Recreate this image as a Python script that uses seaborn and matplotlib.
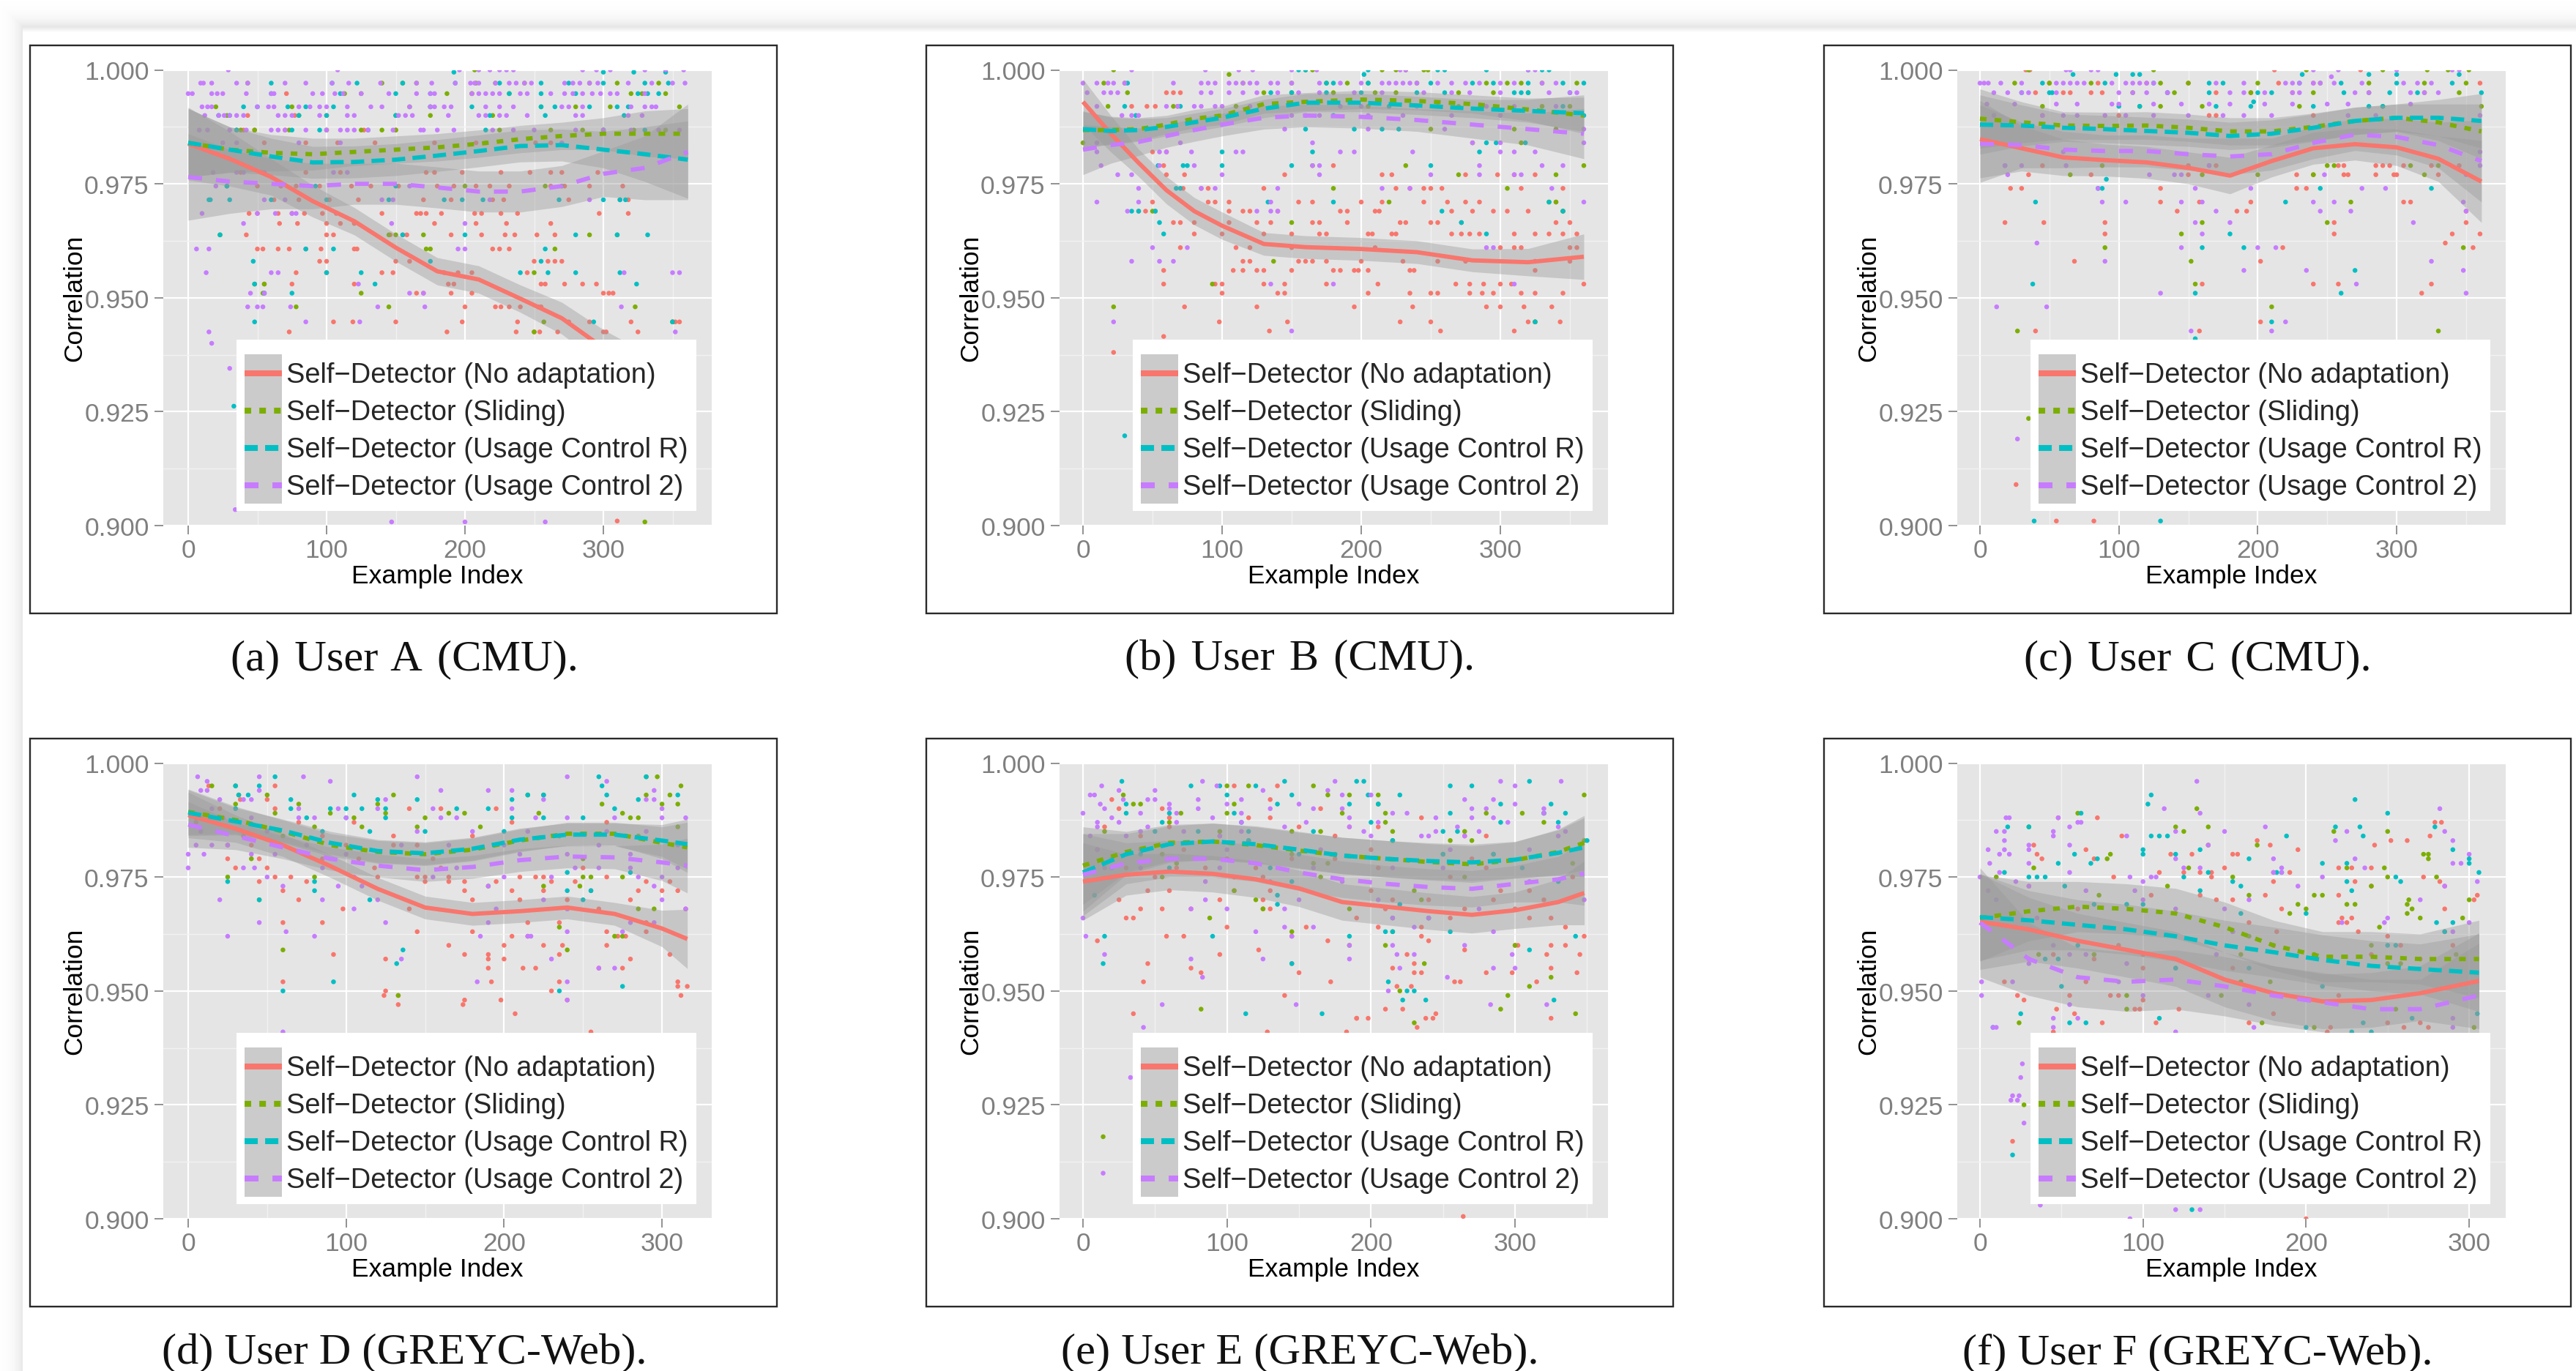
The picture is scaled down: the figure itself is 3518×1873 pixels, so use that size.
import matplotlib
matplotlib.use("Agg")
import matplotlib.pyplot as plt
from matplotlib.legend_handler import HandlerLine2D
from matplotlib.lines import Line2D
from matplotlib.patches import Rectangle
from matplotlib.transforms import Affine2D
import numpy as np
import pandas as pd
import seaborn as sns

SERIES = ["Self\u2212Detector (No adaptation)", "Self\u2212Detector (Sliding)",
          "Self\u2212Detector (Usage Control R)", "Self\u2212Detector (Usage Control 2)"]
COLORS = ["#F8766D", "#7CAE00", "#00BFC4", "#C77CFF"]
CAPTIONS = ["(a)\u200a User\u200a A\u200a (CMU).", "(b)\u200a User\u200a B\u200a (CMU).", "(c)\u200a User\u200a C\u200a (CMU).",
            "(d) User D (GREYC-Web).", "(e) User E (GREYC-Web).", "(f) User F (GREYC-Web)."]
X_TICKS = [0, 100, 200, 300]
Y_TICKS = [0.900, 0.925, 0.950, 0.975, 1.000]

# --- smoothers: knots, means, ribbon half widths ---
A_X = [0, 30, 60, 90, 120, 150, 180, 210, 240, 270, 300, 330, 361]
A_LINES = [[.9838, .9805, .9765, .9712, .9668, .9610, .9558, .9540, .9498, .9455, .9390, .9320, .9250],
           [.9840, .9825, .9818, .9815, .9820, .9825, .9830, .9838, .9848, .9855, .9860, .9860, .9860],
           [.9840, .9825, .9810, .9797, .9798, .9803, .9812, .9822, .9833, .9835, .9825, .9815, .9803],
           [.9765, .9755, .9750, .9745, .9750, .9750, .9742, .9733, .9733, .9745, .9772, .9785, .9820]]
A_CI = [[.008, .006, .004, .0035, .003, .003, .003, .003, .003, .0035, .004, .006, .009],
        [.0075, .005, .004, .0035, .003, .003, .003, .003, .003, .003, .0035, .005, .0055],
        [.0075, .005, .004, .0035, .0035, .0035, .0035, .0035, .0035, .0035, .004, .006, .0085],
        [.0095, .007, .0055, .005, .0045, .0045, .0045, .0045, .0045, .0045, .005, .007, .0105]]

B_X = [0, 20, 40, 60, 80, 100, 130, 160, 200, 240, 280, 320, 360]
B_LINES = [[.9930, .9860, .9796, .9736, .9690, .9658, .9618, .9611, .9607, .9600, .9582, .9578, .9590],
           [.9868, .9868, .9870, .9880, .9893, .9900, .9925, .9930, .9935, .9932, .9925, .9913, .9900],
           [.9870, .9866, .9868, .9875, .9885, .9895, .9915, .9928, .9928, .9922, .9915, .9910, .9905],
           [.9825, .9835, .9842, .9855, .9868, .9880, .9895, .9900, .9897, .9890, .9880, .9870, .9860]]
B_CI = [[.005, .004, .003, .003, .003, .003, .0025, .0025, .0025, .0025, .0025, .003, .005],
        [.004, .003, .0025, .002, .002, .002, .002, .002, .002, .002, .002, .0025, .004],
        [.004, .003, .0025, .002, .002, .002, .002, .002, .002, .002, .002, .0025, .004],
        [.0055, .004, .003, .0025, .0025, .0025, .0025, .0025, .0025, .0025, .003, .0035, .0055]]

C_X = [0, 30, 60, 90, 120, 150, 180, 210, 240, 270, 300, 330, 361]
C_LINES = [[.9848, .9828, .9808, .9802, .9797, .9785, .9768, .9800, .9828, .9837, .9830, .9805, .9755],
           [.9893, .9885, .9878, .9877, .9878, .9873, .9865, .9865, .9875, .9888, .9895, .9885, .9865],
           [.9880, .9878, .9873, .9870, .9866, .9862, .9855, .9860, .9873, .9888, .9895, .9895, .9888],
           [.9838, .9835, .9825, .9822, .9822, .9815, .9810, .9815, .9840, .9858, .9853, .9835, .9800]]
C_CI = [[.0085, .005, .004, .0035, .0035, .0035, .004, .0035, .0035, .0035, .004, .005, .009],
        [.0065, .0045, .003, .003, .003, .003, .003, .003, .003, .003, .003, .004, .006],
        [.0065, .0045, .003, .003, .003, .003, .003, .003, .003, .003, .003, .004, .006],
        [.0085, .005, .004, .0035, .0035, .0035, .004, .0035, .0035, .0035, .004, .005, .009]]

D_X = [0, 30, 60, 90, 120, 150, 180, 210, 240, 270, 300, 316]
D_LINES = [[.9886, .9856, .9820, .9774, .9724, .9683, .9669, .9675, .9683, .9669, .9637, .9614],
           [.9893, .9875, .9850, .9820, .9805, .9800, .9810, .9830, .9845, .9845, .9825, .9815],
           [.9891, .9872, .9852, .9825, .9807, .9802, .9812, .9832, .9843, .9843, .9830, .9822],
           [.9865, .9840, .9815, .9790, .9775, .9765, .9772, .9787, .9795, .9793, .9782, .9775]]
D_CI = [[.005, .003, .0025, .0025, .0025, .0025, .0025, .0025, .0025, .0025, .004, .0065],
        [.005, .003, .0025, .0025, .0025, .0025, .0025, .0025, .0025, .0025, .0035, .0055],
        [.005, .003, .0025, .0025, .0025, .0025, .0025, .0025, .0025, .0025, .0035, .0055],
        [.005, .003, .0025, .0025, .0025, .0025, .0025, .0025, .0025, .0025, .004, .006]]

E_X = [0, 30, 60, 90, 120, 150, 180, 210, 240, 270, 300, 330, 348]
E_LINES = [[.9740, .9755, .9762, .9757, .9745, .9725, .9695, .9685, .9675, .9667, .9677, .9695, .9715],
           [.9775, .9805, .9825, .9828, .9820, .9808, .9797, .9790, .9783, .9778, .9787, .9805, .9825],
           [.9760, .9800, .9822, .9828, .9822, .9810, .9797, .9790, .9785, .9782, .9788, .9803, .9815],
           [.9755, .9780, .9790, .9790, .9780, .9760, .9745, .9735, .9728, .9724, .9735, .9745, .9758]]
E_CI = [[.0085, .0045, .004, .004, .004, .004, .004, .004, .004, .004, .004, .005, .007],
        [.0085, .0045, .004, .004, .004, .004, .004, .004, .004, .004, .004, .005, .006],
        [.0085, .0045, .004, .004, .004, .004, .004, .004, .004, .004, .004, .005, .0065],
        [.009, .0045, .004, .004, .004, .004, .004, .004, .004, .004, .004, .005, .007]]

F_X = [0, 30, 60, 90, 120, 150, 180, 210, 240, 270, 306]
F_LINES = [[.9652, .9635, .9610, .9590, .9570, .9525, .9495, .9477, .9480, .9495, .9522],
           [.9660, .9675, .9685, .9680, .9670, .9640, .9600, .9575, .9575, .9570, .9570],
           [.9662, .9655, .9645, .9635, .9620, .9600, .9585, .9568, .9555, .9548, .9540],
           [.9650, .9570, .9530, .9520, .9525, .9510, .9490, .9475, .9460, .9460, .9490]]
F_CI = [[.0105, .007, .006, .006, .006, .006, .006, .006, .006, .006, .0105],
        [.0095, .0065, .0055, .0055, .0055, .0055, .0055, .0055, .0055, .0055, .0085],
        [.0095, .0065, .0055, .0055, .0055, .0055, .0055, .0055, .0055, .0055, .0085],
        [.012, .008, .0065, .0065, .0065, .0065, .0065, .0065, .0065, .0065, .0115]]

# --- scatter points, rows of (correlation, [example indices]) per series ---
A_NO = [(.9948, [71, 205]), (.9900, [43, 77, 100]), (.9868, [40, 48, 70, 127, 150]),
        (.9840, [55, 85, 108, 135, 178, 208, 251, 262]),
        (.9775, [38, 53, 85, 110, 172, 178, 198, 226, 247, 262, 270, 296]),
        (.9745, [50, 67, 78, 95, 118, 132, 152, 180, 192, 208, 218, 232, 262, 272, 290, 314]),
        (.9715, [62, 80, 102, 123, 170, 190, 220, 228, 275, 312, 318]),
        (.9685, [44, 50, 65, 75, 84, 97, 107, 140, 165, 168, 172, 183, 207, 212, 226, 238, 297, 318]),
        (.9663, [66, 79, 100, 110, 120, 178, 208, 230, 262]),
        (.9638, [42, 100, 105, 146, 155, 158, 190, 212, 229, 236, 252, 265]),
        (.9607, [50, 54, 65, 73, 85, 96, 120, 122, 220, 225, 232]),
        (.9580, [95, 100, 150, 160, 250, 260, 265, 270]),
        (.9555, [78, 100, 140, 148, 185, 195, 205, 245]),
        (.9530, [55, 75, 120, 188, 192, 255, 258, 272, 285, 295]),
        (.9510, [55, 165, 170, 190, 205, 300, 304, 307]),
        (.9480, [200, 222, 226, 232, 240, 253, 255]),
        (.9447, [105, 119, 150, 198, 238, 275, 290, 320, 350, 352, 355]),
        (.9425, [73, 187, 237, 250, 254, 267, 300, 302, 325]), (.9010, [310])]
A_SL = [(1.0, [207]), (.9971, [43, 140, 155, 165, 208, 222, 243, 290, 310, 340]),
        (.9948, [113, 125, 187, 205, 232, 320, 328, 345]),
        (.9919, [20, 75, 160, 175, 255, 280, 305, 355]), (.9900, [28, 80, 150, 175, 220]),
        (.9868, [35, 38, 48, 73, 100, 125, 140, 150, 225, 262, 285, 300, 322, 345]),
        (.9745, [28, 200, 258, 270]), (.9638, [23, 145, 150, 170, 290, 310]),
        (.9607, [172, 175, 265]), (.9555, [250]), (.9530, [48, 55]), (.9510, [54, 125]),
        (.9480, [78, 145, 323]), (.9447, [257, 350]), (.9425, [250]), (.9008, [330])]
A_RC = [(.9995, [192, 300, 322, 345]),
        (.9971, [60, 104, 122, 155, 193, 225, 255, 275, 300, 330, 347]),
        (.9948, [60, 110, 150, 175, 232, 255, 280, 325, 332, 340]),
        (.9919, [40, 50, 72, 85, 105, 175, 205, 255, 265, 290, 310, 318]),
        (.9900, [22, 30, 80, 100, 150, 218, 258, 315]), (.9868, [35, 75, 95, 130, 215, 300, 330]),
        (.9745, [28, 92, 150]), (.9715, [15, 16, 30, 60, 100, 145, 185, 198, 213, 268, 300, 312, 316]),
        (.9638, [23, 155, 200, 280, 310, 332]), (.9607, [85, 105, 258]),
        (.9580, [47, 175, 255]), (.9555, [100, 125, 240, 260, 280, 312]),
        (.9530, [48, 135, 324]), (.9510, [55, 75]), (.9447, [48, 293, 350]), (.9262, [33])]
A_U2 = [(1.0, [29, 108, 196, 210, 218, 225, 230, 235, 285, 295, 305, 330, 345, 358]),
        (.9971, [9, 11, 17, 35, 43, 70, 85, 104, 116, 139, 165, 176, 193, 204, 207, 210, 222, 232, 237,
                 243, 248, 272, 278, 283, 290, 296, 318, 335, 350, 359]),
        (.9948, [0, 3, 17, 21, 25, 42, 60, 62, 90, 97, 106, 112, 125, 145, 165, 175, 178, 205, 210, 215,
                 220, 225, 240, 245, 262, 272, 278, 285, 292, 298, 305, 310, 330]),
        (.9919, [10, 14, 17, 50, 58, 62, 80, 88, 95, 100, 115, 132, 140, 160, 175, 178, 185, 190, 215,
                 225, 235, 270, 275, 285, 320, 330, 335, 338]),
        (.9900, [12, 22, 26, 30, 35, 40, 65, 70, 75, 95, 115, 120, 152, 157, 162, 188, 210, 215, 225,
                 230, 245, 280, 285, 318, 328]),
        (.9868, [8, 14, 30, 42, 60, 65, 70, 85, 100, 110, 115, 120, 130, 148, 168, 170, 180, 192, 220,
                 235, 250, 280, 300, 320, 340, 355]),
        (.9840, [25, 35, 80, 110, 215, 270]), (.9775, [18, 35, 40, 55, 105, 115]), (.9745, [20, 160]),
        (.9715, [55, 70, 140, 148, 218, 290]), (.9685, [10, 50, 63, 75, 78]), (.9663, [40, 147, 200]),
        (.9607, [6, 15, 195, 200]), (.9555, [13, 60, 65, 315, 350, 355]), (.9530, [123]),
        (.9510, [45, 55, 160, 170]), (.9480, [43, 50, 54, 74, 137, 171, 313]), (.9447, [85, 124]),
        (.9425, [15, 352]), (.9400, [17]), (.9345, [30]), (.9035, [34]), (.9008, [147, 200, 258])]

B_NO = [(.9950, [60, 65, 70]), (.9920, [35, 46, 52, 68]), (.9820, [50, 60]), (.9790, [58, 180]),
        (.9770, [60, 73, 145, 215, 222, 275, 298, 310, 325]),
        (.9740, [72, 85, 90, 130, 225, 235, 245, 250, 258, 315, 345]),
        (.9710, [50, 90, 95, 105, 155, 165, 200, 215, 245, 262, 275, 285, 340]),
        (.9690, [40, 45, 52, 105, 115, 120, 140, 185, 190, 210, 213, 265, 280, 295, 305, 320, 345]),
        (.9665, [65, 70, 80, 105, 125, 135, 165, 170, 190, 228, 232, 250, 255, 272, 340, 350]),
        (.9640, [80, 100, 130, 150, 170, 175, 205, 208, 222, 225, 265, 272, 278, 285, 310, 325, 335, 345, 355]),
        (.9610, [70, 110, 120, 150, 210, 300, 310, 315, 350, 355]),
        (.9580, [115, 120, 155, 160, 165, 175, 200, 230, 255, 275, 325, 350]),
        (.9560, [58, 108, 115, 125, 130, 150, 180, 185, 195, 198, 205, 235, 238, 325]),
        (.9530, [58, 95, 100, 130, 145, 175, 212, 268, 278, 288, 300, 308, 360]),
        (.9510, [100, 140, 145, 205, 235, 250, 255, 278, 287, 295, 315, 325, 345]),
        (.9480, [73, 125, 195, 237, 290, 300, 317, 337]), (.9447, [98, 147, 228, 250, 320, 325, 343]),
        (.9427, [134, 257, 310]), (.9415, [58]), (.9380, [22])]
B_SL = [(1.0, [22, 160, 165, 215, 225, 232, 245, 248]), (.9990, [105]),
        (.9971, [15, 30, 115, 150, 175, 190, 205, 240, 290, 305, 315, 330, 355]),
        (.9950, [32, 130, 150, 180, 210, 225, 270, 295, 320]), (.9920, [18, 65, 110, 205, 270, 330, 350]),
        (.9870, [250, 310, 340]), (.9840, [0, 280, 315]), (.9790, [165, 232, 360]), (.9770, [270, 340]),
        (.9740, [180, 305]), (.9710, [220, 335, 340]), (.9690, [50, 345]), (.9665, [150]),
        (.9530, [93]), (.9580, [137]), (.9480, [22]), (.9447, [325])]
B_RC = [(1.0, [155, 160, 205, 255, 260, 290, 320, 330, 335]), (.9990, [202]),
        (.9971, [32, 175, 180, 205, 250, 280, 295, 320, 345, 360]),
        (.9950, [135, 150, 175, 200, 240, 260, 310, 315, 320, 350]), (.9920, [30, 70, 220, 345]),
        (.9900, [38, 105, 180, 360]), (.9870, [160, 195, 215, 227]), (.9840, [290, 297, 318]),
        (.9820, [100, 165, 285]), (.9790, [54, 72, 75, 100, 150, 250]), (.9740, [67, 70]),
        (.9710, [133, 180, 335]), (.9690, [35, 40, 52, 258, 345]), (.9665, [55, 272]),
        (.9640, [58, 290]), (.9447, [325]), (.9197, [30])]
B_U2 = [(1.0, [35, 88, 112, 122, 150, 168, 228, 232, 320, 325]),
        (.9971, [0, 10, 18, 22, 30, 65, 85, 90, 95, 105, 110, 115, 120, 125, 135, 140, 150, 170, 185, 200,
                 215, 220, 225, 230, 235, 240, 255, 265, 275, 285, 300, 310, 330, 340]),
        (.9950, [3, 15, 20, 25, 85, 92, 105, 115, 125, 140, 155, 170, 195, 215, 245, 265, 278, 300, 335, 350, 355]),
        (.9920, [10, 60, 68, 80, 85, 95, 100, 120, 185, 200, 240, 255, 290, 310, 340]),
        (.9900, [28, 35, 40, 150, 160, 170, 205, 230, 265, 300]), (.9870, [145, 205, 260, 360]),
        (.9840, [10, 70, 165, 280, 300, 360]), (.9820, [10, 55, 60, 78, 110, 115, 185, 195, 237, 300, 310, 325]),
        (.9790, [13, 55, 80, 165, 170, 285, 330, 345]), (.9770, [25, 35, 100, 170, 250, 285, 310, 315]),
        (.9740, [40, 85, 95, 140, 215, 235, 337]), (.9710, [10, 40, 135, 360]),
        (.9690, [32, 125, 135, 140]), (.9610, [50, 75, 290, 295]), (.9580, [35, 55, 65]),
        (.9530, [135, 180, 310]), (.9447, [22]), (.9427, [150])]

C_NO = [(1.0, [33, 36, 212, 274]), (.9971, [50, 85, 120, 150, 215, 240, 360]),
        (.9950, [40, 60, 65, 80, 88, 135, 170, 195, 225]), (.9900, [45, 100, 165, 170, 240]),
        (.9790, [45, 150, 165, 170, 258, 262, 285, 290, 295, 305, 325, 345]),
        (.9770, [35, 80, 150, 228, 240, 262, 265, 285, 298, 300, 330]),
        (.9740, [22, 30, 130, 228, 235]), (.9710, [130, 158, 195, 305, 310]), (.9690, [142, 185, 192, 350]),
        (.9665, [18, 46, 90, 255, 350]), (.9640, [90, 255, 340, 360]), (.9620, [335]),
        (.9610, [218, 355]), (.9580, [68, 202]), (.9530, [160, 240, 258, 325]), (.9510, [318]),
        (.9447, [202]), (.9427, [40, 158]), (.9090, [26]), (.9010, [55, 82])]
C_SL = [(1.0, [35, 125, 235, 290, 322, 337, 352]), (.9971, [25, 50, 80, 130, 150, 200, 245, 280, 320, 350]),
        (.9950, [110, 140, 195, 240, 280, 320, 345]), (.9920, [45, 115, 130, 160, 230, 290, 361]),
        (.9790, [88, 250, 255, 310, 330]), (.9770, [65, 160, 200, 240, 320]), (.9640, [145]),
        (.9610, [90, 348]), (.9580, [152]), (.9665, [250, 160]), (.9530, [155]), (.9480, [210]),
        (.9427, [27, 330]), (.9235, [35]), (.9710, [267])]
C_RC = [(.9990, [67, 98, 110, 115, 232, 280, 300, 345]),
        (.9971, [45, 90, 125, 165, 175, 230, 260, 300, 340]),
        (.9950, [30, 50, 52, 135, 165, 200, 210, 262, 295, 315, 361]),
        (.9920, [100, 115, 170, 195, 240, 280, 290]), (.9930, [197]), (.9790, [18]),
        (.9760, [91]), (.9740, [85, 88, 245, 325]), (.9710, [40, 220]), (.9640, [180]),
        (.9610, [160, 190]), (.9560, [270]), (.9530, [38]), (.9510, [155, 260]), (.9447, [210]), (.9410, [155]),
        (.9010, [39, 130])]
C_U2 = [(1.0, [62, 65, 80, 85, 240, 258, 300, 340, 345]), (.9985, [253]),
        (.9971, [0, 3, 6, 15, 30, 55, 60, 65, 70, 75, 95, 105, 110, 115, 120, 125, 170, 190, 220, 225, 230, 240,
                 245, 255, 275, 305, 315, 325]),
        (.9950, [10, 20, 30, 35, 55, 100, 110, 120, 135, 180, 190, 205, 225, 230, 270, 280, 310, 320, 330]),
        (.9925, [5, 25, 55, 70, 95, 100, 125, 145, 165, 180, 205, 225, 250, 265, 310]),
        (.9900, [10, 45, 60, 70, 90, 105, 125, 150, 175, 190, 210, 265, 285, 360]),
        (.9820, [60, 360]), (.9790, [18, 30, 62, 165, 360]), (.9770, [20, 122, 140, 145, 248, 350]),
        (.9740, [85, 155, 195, 275, 292]), (.9710, [88, 105, 160, 145, 240, 255, 348]),
        (.9690, [170, 245, 267, 350]), (.9665, [155, 180, 312]), (.9640, [160]), (.9620, [41]),
        (.9610, [145, 200, 213]), (.9580, [90, 325]), (.9560, [190, 235, 348]), (.9530, [271]), (.9510, [130, 350]),
        (.9480, [12, 48]), (.9447, [220]), (.9427, [152, 210]), (.9190, [27])]

D_NO = [(.995, [13, 55]), (.992, [33, 50]), (.990, [20, 55, 140, 160, 195]), (.987, [5, 70, 105, 205, 265]),
        (.984, [35, 85, 130, 180]), (.982, [25, 40, 100, 130, 145]), (.979, [25, 45, 85, 108, 155]),
        (.977, [30, 50, 118, 160, 250]), (.975, [55, 65, 120, 145, 150, 165, 210, 220, 225, 265]),
        (.974, [45, 75, 150, 165, 175, 195, 230, 245, 290, 305]), (.972, [60, 175, 205, 225, 255, 285, 300, 310]),
        (.970, [70, 180, 210, 240, 280]), (.968, [98, 140, 240, 260, 315]), (.965, [60, 85, 215, 235, 290]),
        (.963, [145, 180, 265, 290]), (.962, [205, 215, 272, 277]), (.960, [165, 200, 225, 237, 265]),
        (.958, [92, 175, 190, 235, 305]), (.957, [125, 190, 200, 280]), (.955, [190, 212, 220, 260, 275]),
        (.952, [60, 192, 310, 235]), (.951, [310, 316]), (.950, [125, 230]), (.949, [124, 133, 312]),
        (.948, [175, 198, 240]), (.947, [133, 174]), (.945, [207]), (.941, [255])]
D_SL = [(.997, [290, 297]), (.995, [30, 15, 312]), (.993, [32, 50, 130, 215, 225, 290, 305]),
        (.991, [30, 70, 120, 262, 300, 310]), (.989, [55, 90, 125, 165, 175, 222, 275]),
        (.988, [105, 150, 280, 285]), (.986, [80, 110, 145, 185, 310]), (.984, [60, 235, 285]),
        (.979, [40, 250]), (.975, [25, 80, 250, 255, 275]), (.973, [190, 225, 248]),
        (.970, [45]), (.968, [285, 295]), (.964, [235]), (.962, [270, 275]), (.959, [60, 240]),
        (.949, [133])]
D_RC = [(.997, [55, 260, 290]), (.995, [30, 45, 262]), (.993, [32, 38, 105, 215, 225, 265, 310]),
        (.992, [65, 120, 145, 205, 285]), (.990, [30, 65, 90, 100, 110, 125, 170, 190, 270]),
        (.988, [75, 100, 125, 205, 225, 250]), (.985, [85, 115, 150, 200]), (.976, [240, 280]),
        (.974, [25, 80]), (.972, [80, 240, 255]), (.970, [45, 115, 250]), (.959, [136]),
        (.956, [132]), (.952, [92]), (.951, [275]), (.950, [60, 235])]
D_U2 = [(.997, [6, 45, 73, 145, 240]), (.996, [12, 90, 265]), (.994, [8, 12, 45, 160, 190, 205, 295]),
        (.992, [20, 35, 40, 125, 225, 290, 295]), (.990, [15, 70, 95, 120, 155, 205, 300]),
        (.988, [5, 22, 40, 70, 80, 100, 160, 170, 220, 240, 270, 300, 315]),
        (.985, [8, 50, 145, 180, 215, 265, 290]), (.982, [5, 15, 25, 55, 75, 135, 165, 200, 260, 310]),
        (.980, [0, 10, 40, 55, 100, 210, 240, 280]), (.977, [0, 35, 42, 85, 170, 245, 260, 280, 310]),
        (.975, [50, 105, 155, 200, 230, 285, 300]), (.973, [60, 95, 110, 190, 295]),
        (.970, [20, 85, 120, 225, 300]), (.968, [105, 195, 240, 315]), (.965, [45, 125, 190, 280, 295]),
        (.963, [62, 240, 275]), (.962, [25, 80, 185, 215, 217]), (.957, [135, 230]), (.955, [260, 270]),
        (.952, [183, 240]), (.948, [240]), (.941, [60])]

E_NO = [(.995, [105, 135]), (.992, [20, 130]), (.990, [25, 55, 165]), (.988, [60, 115, 130, 235]),
        (.986, [15, 60, 150, 185, 205]), (.984, [40, 95, 175, 265, 280]), (.981, [10, 70, 145, 200]),
        (.979, [20, 60, 100, 145, 175, 270]), (.977, [30, 65, 85, 120, 205, 280]),
        (.975, [20, 50, 105, 125, 255, 340]), (.972, [45, 60, 105, 130, 200, 290, 310]),
        (.970, [25, 95, 125, 215, 240, 285, 320]), (.968, [40, 55, 75, 125, 130, 210, 265, 300]),
        (.966, [30, 35, 190, 255, 310, 325]), (.964, [100, 155, 205, 235, 335]), (.962, [58, 70, 145, 235, 348]),
        (.961, [10, 170, 240]), (.960, [300, 302, 325, 335]), (.959, [122, 265]), (.958, [95, 225, 345, 322]),
        (.956, [45, 145, 230]), (.955, [75, 215, 325]), (.954, [82, 150, 230, 235, 280, 298, 343]),
        (.952, [42, 172, 258, 262, 315]), (.951, [218, 228]), (.949, [140]), (.946, [210, 222]), (.945, [35, 245]),
        (.944, [190, 190, 198, 238, 243, 325]), (.942, [232]), (.941, [128, 183]), (.9005, [264])]
E_SL = [(.995, [100, 115, 160]), (.993, [28, 170, 185, 205, 348]), (.991, [35, 40, 105, 205]),
        (.989, [68, 100, 180, 210, 280, 305, 320]), (.987, [60, 210, 320]), (.985, [15, 95, 145, 165, 215, 265]),
        (.983, [115, 215, 255, 270, 348]), (.980, [55, 145, 175, 250, 285]), (.978, [15, 65, 160, 170, 340]),
        (.975, [55, 165, 265]), (.972, [105, 230]), (.970, [120, 235]), (.968, [125, 185]), (.966, [88, 240]),
        (.963, [215, 145]), (.960, [185, 210, 300]), (.956, [237]), (.953, [325]), (.951, [310]),
        (.950, [220]), (.949, [295]), (.946, [82, 290]), (.945, [342]), (.943, [230]), (.918, [14])]
E_RC = [(.996, [27, 140, 190, 195, 310]), (.995, [75, 95, 120, 255, 270]), (.993, [100, 145, 198, 220]),
        (.991, [30, 135, 185, 205, 290, 325]), (.989, [30, 60, 105, 255, 320, 335]),
        (.987, [55, 110, 200, 290, 330]), (.985, [50, 80, 115, 160, 250, 260]), (.983, [115, 215, 350]),
        (.980, [40, 150, 250, 285]), (.977, [20, 60, 130, 305]), (.974, [145, 330]), (.971, [8, 135]),
        (.969, [135, 220]), (.966, [215, 240]), (.963, [210, 215, 255]), (.962, [15, 90, 185, 342]),
        (.959, [310]), (.956, [14, 145]), (.952, [212]), (.950, [225, 230]), (.948, [222, 238, 327]),
        (.945, [113, 166])]
E_U2 = [(.996, [83, 175, 290, 332]), (.995, [13, 93, 300]), (.994, [25, 50, 125, 170]), (.993, [5, 8, 180, 200]),
        (.992, [28, 45, 50, 80, 110, 265, 285]), (.991, [12, 60, 100, 150, 300]),
        (.990, [15, 60, 80, 130, 160, 180, 270, 280, 320]), (.989, [0, 40, 65, 110, 215, 225, 320]),
        (.988, [20, 90, 185, 245, 270, 285]), (.987, [10, 25, 65, 110, 155, 205, 295]),
        (.986, [10, 45, 140, 185, 260, 330]), (.985, [40, 70, 110, 195, 245, 275, 335]),
        (.984, [5, 30, 95, 200, 235, 240, 265, 330]), (.981, [10, 40, 100, 165, 255, 310]),
        (.977, [15, 40, 95, 160, 215, 250]), (.974, [85, 130, 180, 310]), (.970, [85, 150, 205, 348]),
        (.968, [75, 100, 140, 275]), (.966, [0, 215, 240]), (.964, [140, 160, 230]), (.963, [120, 285]),
        (.962, [2, 145]), (.960, [185, 215, 265]), (.958, [15, 218, 230, 298]), (.957, [75, 125, 185]),
        (.955, [220, 285, 300]), (.953, [83, 253]), (.950, [212]), (.947, [55, 148, 283, 322]),
        (.942, [42]), (.931, [33]), (.910, [14])]

F_NO = [(.988, [48, 72]), (.987, [279, 283]), (.984, [87, 276]), (.983, [170, 252, 262]), (.982, [33, 178, 242]),
        (.981, [65, 195]), (.980, [35, 117, 130, 155, 158]), (.979, [38, 70]), (.977, [150, 220, 228, 240]),
        (.976, [110, 125, 135, 142, 180, 190]), (.975, [82, 142, 272]), (.974, [180, 230, 282]), (.973, [30, 240, 285]),
        (.971, [105, 135, 175, 220, 305]), (.970, [155, 145, 303]), (.968, [60, 185, 285]), (.966, [222, 228]),
        (.965, [165, 220, 225]), (.963, [182, 232, 285]), (.962, [250]), (.960, [85, 258, 290]),
        (.958, [45, 100, 240]), (.957, [30, 70, 270]), (.955, [100, 120, 155]), (.952, [15, 65]),
        (.949, [23, 55, 80, 85, 220]), (.948, [27, 100]), (.946, [47, 95, 98, 122]), (.945, [58, 180]),
        (.943, [75, 108, 165, 250, 270]), (.942, [215, 260, 275]), (.941, [45, 213]), (.917, [20]), (.900, [200])]
F_SL = [(.990, [133]), (.989, [60]), (.986, [30, 120, 140]), (.985, [217, 250, 125]), (.982, [170, 140]),
        (.980, [80, 272, 275]), (.979, [78, 275]), (.977, [33, 128, 225, 248]), (.975, [10, 155, 250, 280]),
        (.973, [115, 240]), (.971, [73, 165, 205, 210]), (.970, [263, 300]), (.969, [195, 225, 230, 262]),
        (.968, [200, 265]), (.967, [190, 262]), (.966, [270, 296]), (.964, [245]), (.962, [165]), (.960, [240]),
        (.958, [36, 70, 160, 205, 292]), (.956, [250, 258]), (.952, [160, 178]), (.949, [90, 148]), (.946, [90, 255]),
        (.943, [24, 173]), (.942, [303, 205]), (.925, [27])]
F_RC = [(.993, [105]), (.992, [230]), (.991, [103]), (.989, [62, 250]), (.986, [17, 30, 218, 233, 279]),
        (.984, [105, 110, 115, 235, 188]), (.981, [100, 135, 290]), (.980, [58, 100, 120]), (.979, [165, 72, 300]),
        (.978, [48, 68, 210, 225, 300]), (.976, [15, 140, 182, 185, 306]), (.975, [30, 35, 40, 125, 255]),
        (.974, [155, 258, 225]), (.973, [52, 160]), (.972, [135, 228]), (.969, [70, 100, 90]), (.967, [160, 200]),
        (.965, [280, 290]), (.963, [155, 285]), (.960, [60, 250, 255]), (.957, [40, 48]), (.955, [120, 165]),
        (.951, [50, 210]), (.945, [25, 305]), (.944, [110, 265]), (.943, [65, 55, 235]), (.942, [8, 200]),
        (.941, [228, 240]), (.914, [20]), (.902, [130])]
F_U2 = [(.996, [133]), (.990, [113, 282]), (.989, [135]), (.988, [16, 18, 48]), (.987, [60, 62]), (.986, [55, 175]),
        (.985, [10, 15, 45, 120, 150, 225, 285]), (.984, [45, 90]), (.983, [15, 218, 290]), (.982, [30, 55, 140]),
        (.981, [5, 15, 30]), (.980, [12, 18, 300]), (.979, [180, 230, 120]), (.978, [6, 30, 290, 295]),
        (.977, [125, 135, 185, 236]), (.976, [12, 55, 185, 180]), (.975, [0, 92, 105, 108, 210]), (.974, [22, 100, 305]),
        (.973, [195, 30, 285]), (.972, [5, 65, 95]), (.970, [10, 100, 165, 270]), (.968, [150, 120]),
        (.966, [35, 250]), (.965, [222, 248, 300]), (.963, [155, 290]), (.960, [45, 180]), (.958, [55, 65, 145]),
        (.956, [30, 90]), (.952, [1, 20, 85]), (.949, [1, 100, 140]), (.947, [55, 165]), (.944, [45, 60, 290]),
        (.942, [8, 10, 45, 168, 290]), (.941, [120]), (.934, [26]), (.931, [25]), (.927, [20, 24]), (.926, [19, 23]),
        (.921, [27]), (.903, [37]), (.902, [120, 135]), (.900, [92])]

PANELS = [
    (A_X, A_LINES, A_CI, [A_NO, A_SL, A_RC, A_U2]), (B_X, B_LINES, B_CI, [B_NO, B_SL, B_RC, B_U2]),
    (C_X, C_LINES, C_CI, [C_NO, C_SL, C_RC, C_U2]), (D_X, D_LINES, D_CI, [D_NO, D_SL, D_RC, D_U2]),
    (E_X, E_LINES, E_CI, [E_NO, E_SL, E_RC, E_U2]), (F_X, F_LINES, F_CI, [F_NO, F_SL, F_RC, F_U2]),
]

# --- layout, in pixels of the 3518x1874 picture ---
W, H = 3518, 1874
FRAME_X = [41, 1265, 2491]
FRAME_Y = [63, 1010]
FRAME_W, FRAME_H = 1020, 776
X_ZERO = [257, 1479, 2704, 257, 1479, 2704]
X_SCALE = [1.89, 1.90, 1.897, 2.157, 1.967, 2.227]
CAPTION_Y = [901, 1849]
CAPTION_X = [552, 1775, 3001, 552, 1775, 3001]

DASH_PTS = [None, (6.5, 8.0), (13.0, 7.2), (13.7, 13.7)]
LINE_W = 4.2
KEY_W = 5.8
FONT_PX = 38
ROW_H = (51 / FONT_PX - 0.245) / 0.65  # handleheight that gives 51 px legend rows


def dash_for(i, lw):
    return "" if DASH_PTS[i] is None else (DASH_PTS[i][0] / lw, DASH_PTS[i][1] / lw)


class KeyHandler(HandlerLine2D):
    # legend key with the grey ribbon behind the line
    def create_artists(self, legend, orig_handle, xdescent, ydescent, width, height, fontsize, trans):
        back = Rectangle((-xdescent, -ydescent), width, height, facecolor="#cbcbcb",
                         edgecolor="none", transform=trans)
        arts = super().create_artists(legend, orig_handle, xdescent, ydescent, width, height, fontsize, trans)
        arts[0].set_ydata([(height - 2 * ydescent) / 2] * len(arts[0].get_xdata()))
        return [back] + arts


sns.set_theme(style="darkgrid", rc={"axes.facecolor": "#e5e5e5", "grid.color": "white"})
plt.rcParams["font.family"] = ["Liberation Sans", "DejaVu Sans"]

fig = plt.figure(figsize=(W / 100, H / 100), dpi=100, facecolor="white")

# soft shadow round the page of the screenshot
yy, xx = np.mgrid[0:H, 0:W]
dist = np.maximum(31 - xx, 37 - yy).clip(0)
shade = np.where(dist > 0, 1 - 0.10 * np.exp(-dist / 11.0), 1.0)
band = (yy >= 37) & (yy < 45) & (xx >= 31)
shade = np.where(band, 0.90 + (yy - 37) * 0.0125, shade)
fig.figimage(shade, cmap="gray", vmin=0, vmax=1, origin="upper", zorder=-5)

for k, (xs, lines, cis, rows) in enumerate(PANELS):
    fx = FRAME_X[k % 3]
    fy = FRAME_Y[k // 3]
    fig.add_artist(Rectangle((fx / W, 1 - (fy + FRAME_H) / H), FRAME_W / W, FRAME_H / H, transform=fig.transFigure,
                             facecolor="white", edgecolor="#2a2a2a", linewidth=1.7, zorder=-1))
    left, top = fx + 182, fy + 33.5
    pw, ph = 749, 622.5
    ax = fig.add_axes([left / W, 1 - (top + ph) / H, pw / W, ph / H])

    pts = []
    for name, series_rows in zip(SERIES, rows):
        for y, row_x in series_rows:
            for x in row_x:
                pts.append({"x": x, "y": y, "series": name})
    pts = pd.DataFrame(pts)
    sns.scatterplot(data=pts, x="x", y="y", hue="series", hue_order=SERIES, palette=COLORS, s=22, linewidth=0,
                    legend=False, ax=ax, zorder=1.5, clip_on=True)

    for i, name in enumerate(SERIES):
        mean = np.array(lines[i])
        half = np.array(cis[i])
        ax.fill_between(xs, mean - half, mean + half, color="#999999", alpha=0.4, linewidth=0, zorder=2)

    curve = pd.DataFrame([{"x": x, "y": v, "series": name}
                          for name, vals in zip(SERIES, lines) for x, v in zip(xs, vals)])
    sns.lineplot(data=curve, x="x", y="y", hue="series", hue_order=SERIES, style="series", style_order=SERIES,
                 palette=COLORS, dashes=[dash_for(i, LINE_W) for i in range(4)], linewidth=LINE_W,
                 estimator=None, errorbar=None, legend=False, ax=ax, zorder=3, dash_capstyle="butt",
                 solid_capstyle="butt")

    x0 = X_ZERO[k]
    sc = X_SCALE[k]
    ax.set_xticks(X_TICKS)
    ax.set_yticks(Y_TICKS)
    ax.set_yticklabels([f"{v:.3f}" for v in Y_TICKS])
    ax.set_xticks([50, 150, 250, 350], minor=True)
    ax.set_yticks([0.9125, 0.9375, 0.9625, 0.9875], minor=True)
    # limits after the ticks: set_xticks widens the view to hold them
    ax.set_xlim((left - x0) / sc, (left + pw - x0) / sc)
    ax.set_ylim(0.9, 1.0)
    ax.grid(True, which="major", color="white", linewidth=1.6, zorder=0)
    ax.grid(True, which="minor", color="#f2f2f2", linewidth=1.0, zorder=0)
    ax.set_axisbelow(True)
    for sp in ax.spines.values():
        sp.set_visible(False)
    ax.tick_params(axis="both", which="major", length=8.5, width=1.2, color="#7f7f7f", labelcolor="#7f7f7f",
                   labelsize=25.5, bottom=True, left=True)
    ax.tick_params(axis="x", which="major", pad=4)
    ax.tick_params(axis="y", which="major", pad=5.5)
    ax.tick_params(axis="both", which="minor", length=0)
    ax.set_xlabel("Example Index", fontsize=25.5, color="black", labelpad=1)
    ax.set_ylabel("Correlation", fontsize=25.5, color="black", labelpad=-2)

    # legend box and keys
    ax.add_patch(Rectangle(((100 + left), 0), 628, 234, facecolor="white", edgecolor="none", zorder=4,
                           transform=Affine2D().translate(0, H - (top + ph - 20))))
    handles = [Line2D([0, 1], [0, 1], color=COLORS[i], linewidth=KEY_W,
                      linestyle="-" if DASH_PTS[i] is None else (0, dash_for(i, KEY_W)),
                      dash_capstyle="butt", solid_capstyle="butt") for i in range(4)]
    leg = ax.legend(handles, SERIES, loc="lower left", frameon=False, fontsize=FONT_PX * 0.72, borderpad=0,
                    borderaxespad=0, handlelength=51.5 / FONT_PX, handleheight=ROW_H,
                    handletextpad=5.6 / FONT_PX, labelspacing=0,
                    bbox_to_anchor=((left + 110.5) / W, 1 - (top + ph - 30) / H),
                    bbox_transform=fig.transFigure, handler_map={Line2D: KeyHandler(marker_pad=0.15)})
    leg.set_zorder(5)

    fig.text(CAPTION_X[k] / W, 1 - CAPTION_Y[k // 3] / H, CAPTIONS[k], family="Liberation Serif",
             fontsize=43.5, color="#111111", ha="center", va="center")

fig.savefig("out.png", dpi=100, facecolor="white")
